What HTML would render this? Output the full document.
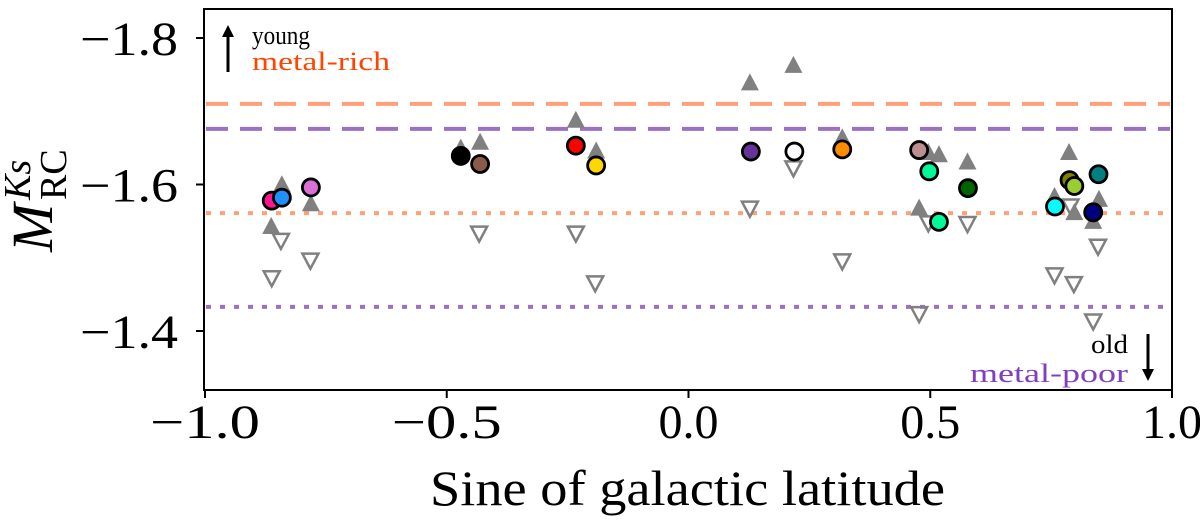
<!DOCTYPE html>
<html><head><meta charset="utf-8"><style>
html,body{margin:0;padding:0;background:#fff;}
svg{display:block;font-family:"Liberation Serif",serif;}
</style></head><body>
<svg id="chart" width="1200" height="523" xmlns="http://www.w3.org/2000/svg">
<g id="plot"></g>
</svg>
<script>
const xTicks=[-1.0,-0.5,0.0,0.5,1.0];
const yTicks=[-1.8,-1.6,-1.4];
const xTickLabels=["\u22121.0","\u22120.5","0.0","0.5","1.0"];
const yTickLabels=["\u22121.8","\u22121.6","\u22121.4"];
const refLines=[-1.710,-1.676,-1.561,-1.433];
const refColors=["#ffa07a","#9b72c2","#ffa07a","#9b72c2"];
const refDash=["22,12","22,12","5,9","5,9"];
const upX=[-0.841,-0.863,-0.781,-0.471,-0.431,-0.233,-0.191,0.127,0.217,0.318,0.496,0.518,0.577,0.477,0.787,0.757,0.849,0.798,0.837];
const upY=[-1.599,-1.542,-1.573,-1.649,-1.657,-1.687,-1.645,-1.738,-1.762,-1.663,-1.643,-1.640,-1.630,-1.567,-1.643,-1.583,-1.579,-1.561,-1.549];
const downX=[-0.843,-0.862,-0.782,-0.433,-0.233,-0.193,0.127,0.217,0.318,0.496,0.577,0.477,0.757,0.797,0.847,0.837,0.790];
const downY=[-1.523,-1.472,-1.496,-1.533,-1.533,-1.465,-1.567,-1.622,-1.495,-1.547,-1.546,-1.423,-1.476,-1.464,-1.515,-1.413,-1.570];
const ptX=[-0.862,-0.841,-0.781,-0.471,-0.431,-0.233,-0.191,0.129,0.219,0.318,0.477,0.498,0.578,0.518,0.788,0.798,0.848,0.758,0.837];
const ptY=[-1.578,-1.582,-1.596,-1.639,-1.628,-1.653,-1.626,-1.645,-1.645,-1.648,-1.647,-1.618,-1.595,-1.549,-1.606,-1.598,-1.614,-1.570,-1.562];
const ptColors=["#ff1493","#1e90ff","#da70d6","#000000","#8b5a4a","#ff0000","#ffd700","#663399","#ffffff","#ff8c00","#bc8f8f","#00fa9a","#006400","#00fa9a","#808000","#9acd32","#008080","#00ffff","#000080"];

const L=204,R=1172,T=9,B=390;
const X=v=>205+(v+1)*483.5;
const Y=v=>38+(v+1.8)*732.5;
const NS="http://www.w3.org/2000/svg";
const g=document.getElementById('plot');
function mk(tag,attrs,parent){const e=document.createElementNS(NS,tag);for(const k in attrs)e.setAttribute(k,attrs[k]);(parent||g).appendChild(e);return e;}

refLines.forEach((v,i)=>{
 const e=mk('line',{x1:L+2,x2:R-2,y1:Y(v),y2:Y(v),stroke:refColors[i],'stroke-width':4,'stroke-dasharray':refDash[i]});
 
 
});
upX.forEach((v,i)=>{
 const x=X(v),y=Y(upY[i]);
 const e=mk('polygon',{points:`${x},${y-10} ${x-9},${y+7} ${x+9},${y+7}`,fill:'#808080'});
 
 
});
downX.forEach((v,i)=>{
 const x=X(v),y=Y(downY[i]);
 const e=mk('polygon',{points:`${x-8},${y-7} ${x+8},${y-7} ${x},${y+8}`,fill:'none',stroke:'#808080','stroke-width':2.5});
 
 
});
ptX.forEach((v,i)=>{
 const e=mk('circle',{cx:X(v),cy:Y(ptY[i]),r:8.5,fill:ptColors[i],stroke:'#000','stroke-width':2.8});
 
 
});
const fr=mk('rect',{x:L,y:T,width:R-L,height:B-T,fill:'none',stroke:'#000','stroke-width':2});


xTicks.forEach((v,i)=>{
 mk('line',{x1:X(v),x2:X(v),y1:B,y2:B+8,stroke:'#000','stroke-width':2});
 const t=mk('text',{x:X(v),y:438,'text-anchor':'middle','font-size':48});
 t.textContent=xTickLabels[i];
 if(v<0){t.setAttribute('textLength',110);t.setAttribute('lengthAdjust','spacingAndGlyphs');}
 
 
});
yTicks.forEach((v,i)=>{
 mk('line',{x1:L-8,x2:L,y1:Y(v),y2:Y(v),stroke:'#000','stroke-width':2});
 const t=mk('text',{x:80,y:Y(v)+17,'font-size':48,textLength:98,lengthAdjust:'spacingAndGlyphs'});
 t.textContent=yTickLabels[i];
 
 
});
</script>
<svg width="1200" height="523" style="position:absolute;left:0;top:0" xmlns="http://www.w3.org/2000/svg">
<text x="430" y="505" font-size="50" textLength="515" lengthAdjust="spacingAndGlyphs" font-family="Liberation Serif,serif">Sine of galactic latitude</text>
<g transform="translate(52,252) rotate(-90)" font-family="Liberation Serif,serif">
<text x="0" y="0" font-size="58" font-style="italic">M</text>
<text x="52" y="14" font-size="38">RC</text>
<text x="52" y="-22" font-size="38" font-style="italic">Ks</text>
</g>
<line x1="228" y1="72" x2="228" y2="34" stroke="#000" stroke-width="3"/>
<polygon points="228,25 222,37 234,37" fill="#000"/>
<text x="252" y="44" font-size="26" textLength="58" lengthAdjust="spacingAndGlyphs" font-family="Liberation Serif,serif">young</text>
<text x="252" y="70" font-size="26" textLength="138" lengthAdjust="spacingAndGlyphs" fill="#ff4500" font-family="Liberation Serif,serif">metal-rich</text>
<text x="1091" y="353" font-size="26" textLength="37" lengthAdjust="spacingAndGlyphs" font-family="Liberation Serif,serif">old</text>
<text x="970" y="382" font-size="26" textLength="158" lengthAdjust="spacingAndGlyphs" fill="#7f3fbf" font-family="Liberation Serif,serif">metal-poor</text>
<line x1="1148" y1="334" x2="1148" y2="372" stroke="#000" stroke-width="3"/>
<polygon points="1148,381 1142,369 1154,369" fill="#000"/>
</svg>
</body></html>
